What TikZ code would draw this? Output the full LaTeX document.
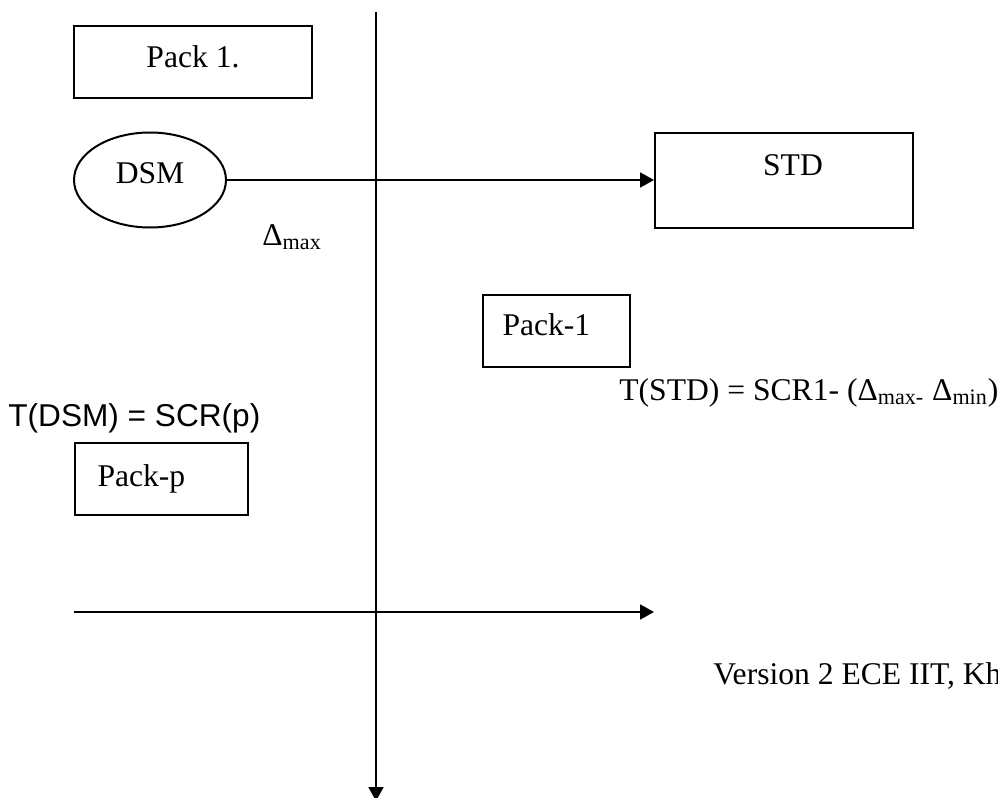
\documentclass[tikz,border=0pt]{standalone}
\usepackage{fontspec}
\setmainfont{Liberation Serif}
\newfontfamily\arialfont{Liberation Sans}
\usetikzlibrary{arrows.meta,positioning,shapes.geometric}

\begin{document}
\begin{tikzpicture}[
  x=0.5pt, y=-0.5pt,
  font=\fontsize{15.8}{19}\selectfont,
  box/.style={draw, line width=1pt, inner ysep=0pt},
  oval/.style={draw, ellipse, line width=1pt, inner sep=0pt, minimum width=76pt, minimum height=47.5pt},
  arr/.style={-{Triangle[length=7pt, width=7.5pt]}, line width=1pt},
  lbl/.style={inner sep=0pt, anchor=base west}
]
\useasboundingbox (0,0) rectangle (998,798);

% time axis and packet line
\coordinate (vtop) at (376,12);
\coordinate (vbot) at (376,801);
\draw[arr] (vtop) -- (vbot);
\coordinate (hleft) at (74,612);
\coordinate (hright) at (654,612);
\draw[arr] (hleft) -- (hright);

\node[box, minimum width=119pt, minimum height=36pt, text depth=5pt] (pack1) at (193,62) {Pack 1.};
\node[oval, text depth=7pt] (dsm) at (150,180) {DSM\hspace{5pt}};
\node[box, minimum width=129pt, minimum height=47.5pt, text depth=15pt] (std) at (784,180) {\hspace{9pt}STD};
\draw[arr] (dsm.east) -- (std.west);

\node[lbl] (dmax) at (262,245) {Δ\textsubscript{max}};
\node[box, inner xsep=10pt, text width=53.5pt, align=left, minimum height=36pt, text depth=6pt] (packone) at (556,331) {Pack-1};
\node[lbl] (tstd) at (619,400) {T(STD) = SCR1- (Δ\textsubscript{max-} Δ\textsubscript{min})};

\node[lbl, font=\arialfont\fontsize{15.8}{19}\selectfont] (tdsm) at (8,426) {T(DSM) = SCR(p)};
\node[box, inner xsep=11.5pt, text width=63.5pt, align=left, minimum height=36pt] (packp) at (161,479) {Pack-p};

\node[lbl] (ver) at (713,684) {Version 2 ECE IIT, Kharagpur};
\end{tikzpicture}
\end{document}
